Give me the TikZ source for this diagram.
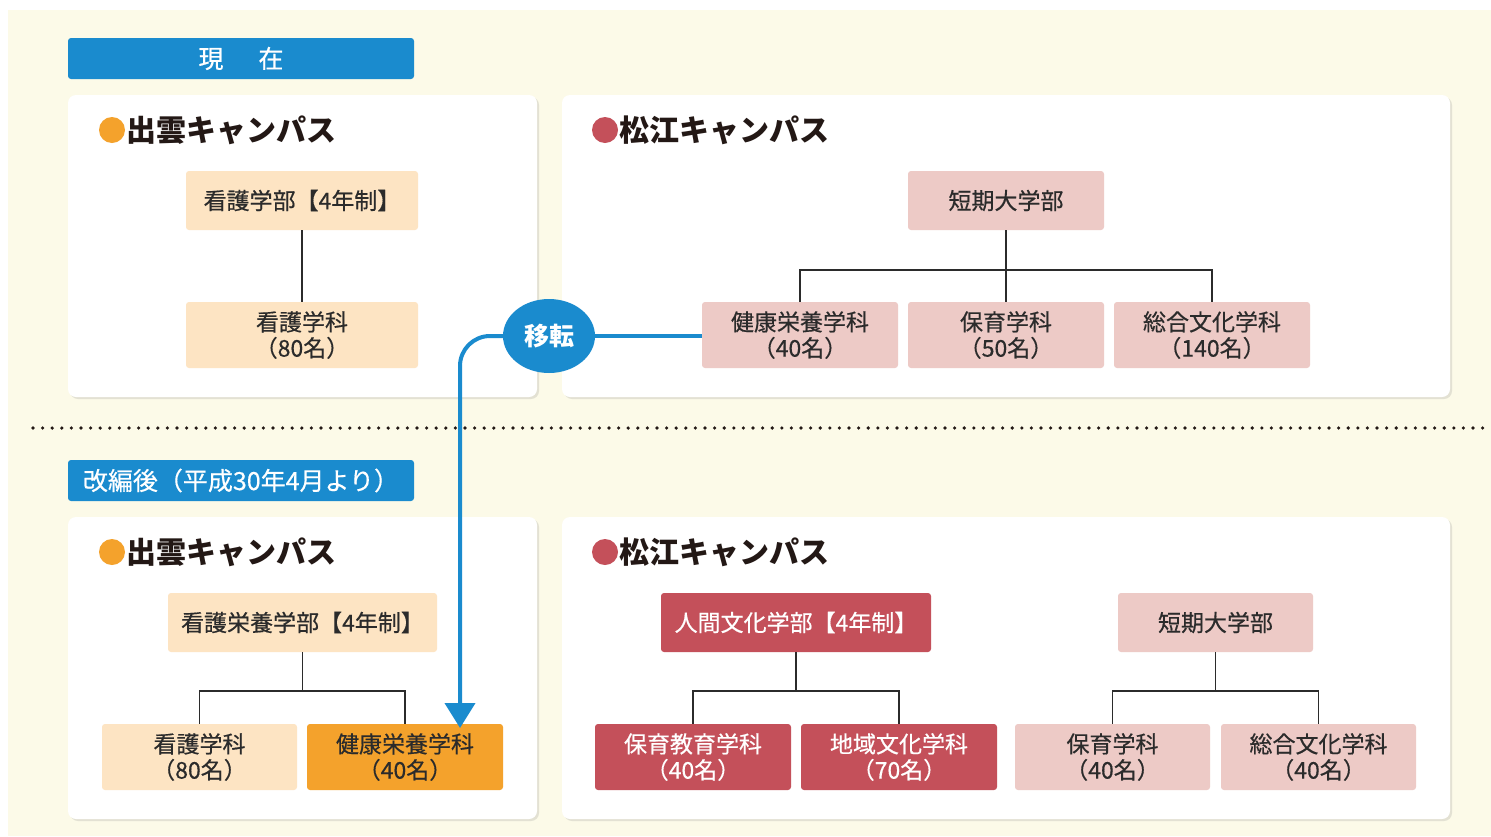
\documentclass[tikz,border=0pt]{standalone}
\usepackage{fontspec}
\setmainfont{Noto Sans CJK JP}
\newfontfamily\medfont{Noto Sans CJK JP}[FakeBold=0.5]
\usetikzlibrary{shadows,arrows.meta,shapes.geometric}
\definecolor{cream}{HTML}{FCFAE8}
\definecolor{mblue}{HTML}{1A8BCE}
\definecolor{peach}{HTML}{FDE4C3}
\definecolor{morange}{HTML}{F4A22C}
\definecolor{mpink}{HTML}{EDCAC6}
\definecolor{mred}{HTML}{C4505A}
\definecolor{txt}{HTML}{2B2B2B}
\definecolor{ttl}{HTML}{231815}
\tikzset{
  panel/.style={fill=white, rounded corners=8pt, drop shadow={shadow xshift=2pt, shadow yshift=-2pt, opacity=0.22, fill=black!45}},
  banner/.style={fill=mblue, rounded corners=3pt, text=white, font=\medfont\fontsize{25}{28}\selectfont, inner sep=0pt},
  unit/.style={rounded corners=3pt, inner sep=0pt, align=center, text=txt, font=\medfont\fontsize{23}{26}\selectfont},
  parentbox/.style={unit, minimum height=59pt},
  childbox/.style={unit, minimum height=66pt, minimum width=196pt},
  tree/.style={draw=txt, line width=1.2pt},
  blueline/.style={draw=mblue, line width=4pt},
  title/.style={anchor=west, inner sep=0pt, text=ttl, font=\fontsize{30}{32}\bfseries\selectfont},
}
\begin{document}
\begin{tikzpicture}[x=1pt,y=-1pt]
\useasboundingbox (0,0) rectangle (1491,836);
\fill[white] (0,0) rectangle (1491,836);
\fill[cream] (8,10) rectangle (1491,836);

% banners
\node[banner, minimum width=346pt, minimum height=41pt] (now) at (241,58.5) {現\hspace{1.4em}在};
\node[banner, minimum width=346pt, minimum height=41pt] (after) at (241,480.5) {改編後（平成30年4月より）};

% panels
\path[panel] (68,95) rectangle (537,397);
\path[panel] (562,95) rectangle (1450,397);
\path[panel] (68,517) rectangle (537,819);
\path[panel] (562,517) rectangle (1450,819);

% titles
\fill[morange] (112,130) circle (13);
\node[title] (t1) at (126,130) {出雲キャンパス};
\fill[mred] (605,130) circle (13);
\node[title] (t2) at (619,130) {松江キャンパス};
\fill[morange] (112,552) circle (13);
\node[title] (t3) at (126,552) {出雲キャンパス};
\fill[mred] (605,552) circle (13);
\node[title] (t4) at (619,552) {松江キャンパス};

% top-left
\node[parentbox, fill=peach, minimum width=232pt] (kangoBu) at (302,200.5) {看護学部【4年制】};
\node[childbox, fill=peach, minimum width=232pt] (kangoKa) at (302,335) {看護学科\\（80名）};
\draw[tree] (kangoBu.south) -- (kangoKa.north);

% top-right
\node[parentbox, fill=mpink, minimum width=196pt] (tanki) at (1006,200.5) {短期大学部};
\node[childbox, fill=mpink] (kenkoOld) at (800,335) {健康栄養学科\\（40名）};
\node[childbox, fill=mpink] (hoikuOld) at (1006,335) {保育学科\\（50名）};
\node[childbox, fill=mpink] (sogoOld) at (1212,335) {総合文化学科\\（140名）};
\coordinate (j1) at (1006,270);
\draw[tree] (tanki.south) -- (hoikuOld.north);
\draw[tree] (kenkoOld.north) |- (j1) -| (sogoOld.north);

% dotted separator
\draw[line width=3.6pt, line cap=round, dash pattern=on 0pt off 9.6pt, draw=ttl] (33,428) -- (1484,428);

% bottom-left
\node[parentbox, fill=peach, minimum width=269pt] (kngBu) at (302.5,622.5) {看護栄養学部【4年制】};
\node[childbox, fill=peach, minimum width=195pt] (kangoNew) at (199.5,757) {看護学科\\（80名）};
\node[childbox, fill=morange, minimum width=196pt] (kenkoNew) at (405,757) {健康栄養学科\\（40名）};
\coordinate (j2) at (302.5,691);
\draw[tree] (kngBu.south) -- (j2);
\draw[tree] (kangoNew.north) |- (j2) -| (kenkoNew.north);

% bottom-right
\node[parentbox, fill=mred, text=white, minimum width=270pt] (ningen) at (796,622.5) {人間文化学部【4年制】};
\node[childbox, fill=mred, text=white] (hoikuKyo) at (693,757) {保育教育学科\\（40名）};
\node[childbox, fill=mred, text=white] (chiiki) at (899,757) {地域文化学科\\（70名）};
\coordinate (j3) at (796,691);
\draw[tree] (ningen.south) -- (j3);
\draw[tree] (hoikuKyo.north) |- (j3) -| (chiiki.north);

\node[parentbox, fill=mpink, minimum width=195pt] (tanki2) at (1215.5,622.5) {短期大学部};
\node[childbox, fill=mpink, minimum width=195pt] (hoikuNew) at (1112.5,757) {保育学科\\（40名）};
\node[childbox, fill=mpink, minimum width=195pt] (sogoNew) at (1318.5,757) {総合文化学科\\（40名）};
\coordinate (j4) at (1215.5,691);
\draw[tree] (tanki2.south) -- (j4);
\draw[tree] (hoikuNew.north) |- (j4) -| (sogoNew.north);

% transfer
\node[ellipse, fill=mblue, minimum width=92pt, minimum height=74pt, inner sep=0pt, text=white, font=\fontsize{25}{28}\bfseries\selectfont] (iten) at (549,336) {移転};
\draw[blueline] (iten.east) -- (iten.east -| kenkoOld.west);
\coordinate (arrowend) at (460,728);
\draw[blueline, rounded corners=30pt, -{Triangle[width=30pt,length=25pt]}] (iten.west) -| (arrowend);
\end{tikzpicture}
\end{document}
